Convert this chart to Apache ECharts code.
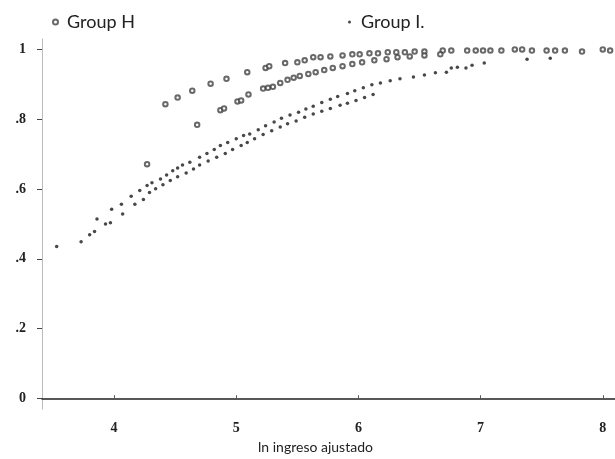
<!DOCTYPE html>
<html>
<head>
<meta charset="utf-8">
<script src="https://cdn.jsdelivr.net/npm/echarts@6/dist/echarts.min.js"></script>
<style>
  html, body { margin: 0; padding: 0; background: #fff; }
  #chart { width: 615px; height: 459px; }
</style>
</head>
<body>
<div id="chart"></div>
<script>
// tick values
var xTicks = [4, 5, 6, 7, 8];
var yTicks = [0, 0.2, 0.4, 0.6, 0.8, 1];

// Group H, upper row of circles
var groupH_top = [
    [4.42, .843], [4.52, .862], [4.64, .882], [4.79, .902], [4.92, .916], [5.09, .935],
    [5.24, .947], [5.27, .952], [5.40, .961], [5.50, .963], [5.56, .969], [5.63, .978],
    [5.69, .978], [5.77, .980], [5.87, .983], [5.95, .986], [6.01, .986], [6.09, .989],
    [6.16, .989], [6.24, .992], [6.31, .992], [6.38, .992], [6.46, .994], [6.54, .994],
    [6.69, .997], [6.76, .997], [6.89, .997], [6.96, .997], [7.02, .997], [7.08, .997],
    [7.17, .997], [7.28, 1.0], [7.34, 1.0], [7.42, .997], [7.54, .997], [7.61, .997],
    [7.69, .997], [7.83, .994], [8.00, 1.0], [8.06, .997]
];
// Group H, second row of circles
var groupH_low = [
    [4.27, .671], [4.68, .784], [4.87, .826], [4.90, .831], [5.01, .851], [5.04, .854],
    [5.10, .871], [5.22, .888], [5.26, .890], [5.30, .893], [5.36, .904], [5.42, .913],
    [5.47, .919], [5.52, .924], [5.59, .930], [5.65, .935], [5.72, .941], [5.79, .947],
    [5.87, .952], [5.95, .958], [6.03, .963], [6.13, .969], [6.23, .972], [6.32, .978],
    [6.42, .980], [6.54, .983], [6.67, .986]
];
// Group I, upper row of dots
var groupI_top = [
    [3.86, .514], [3.98, .542], [4.06, .556], [4.14, .579], [4.21, .596], [4.27, .610],
    [4.31, .618], [4.38, .629], [4.43, .640], [4.48, .652], [4.52, .660], [4.56, .669],
    [4.62, .677], [4.70, .691], [4.76, .702], [4.82, .713], [4.87, .725], [4.93, .733],
    [5.00, .744], [5.06, .753], [5.11, .758], [5.18, .770], [5.24, .781], [5.31, .792],
    [5.37, .803], [5.44, .812], [5.51, .820], [5.57, .829], [5.63, .837], [5.70, .848],
    [5.77, .857], [5.83, .865], [5.91, .874], [5.97, .882], [6.04, .890], [6.11, .899],
    [6.18, .904], [6.26, .910], [6.34, .916], [6.45, .921], [6.54, .927], [6.63, .933],
    [6.72, .935], [6.76, .947], [6.81, .949], [6.88, .947], [6.93, .955], [7.03, .961],
    [7.38, .972], [7.57, .975]
];
// Group I, lower row of dots
var groupI_low = [
    [3.53, .435], [3.73, .449], [3.80, .469], [3.84, .478], [3.93, .500], [3.97, .503],
    [4.07, .528], [4.17, .556], [4.24, .570], [4.29, .590], [4.34, .601], [4.40, .612],
    [4.46, .624], [4.52, .635], [4.59, .646], [4.65, .657], [4.70, .669], [4.77, .680],
    [4.84, .691], [4.91, .702], [4.97, .713], [5.04, .725], [5.09, .733], [5.15, .744],
    [5.22, .756], [5.29, .767], [5.36, .778], [5.42, .787], [5.49, .795], [5.56, .806],
    [5.63, .815], [5.70, .823], [5.77, .831], [5.85, .840], [5.91, .846], [5.98, .854],
    [6.05, .862], [6.12, .871]
];

var myChart = echarts.init(document.getElementById('chart'));
var serif = '"Liberation Serif", "DejaVu Serif", serif';
var sans = 'Lato, "Open Sans", sans-serif';

var option = {
    backgroundColor: '#fff',
    animation: false,
    legend: [
        {
            data: [{name: 'Group H', icon: 'emptyCircle'}],
            left: 47, top: 8,
            itemWidth: 5, itemHeight: 5,
            textStyle: {fontFamily: sans, fontSize: 18, color: '#222', padding: [0, 0, 0, 4]}
        },
        {
            data: [{name: 'Group I.', icon: 'circle'}],
            left: 343, top: 8,
            itemWidth: 3, itemHeight: 3,
            textStyle: {fontFamily: sans, fontSize: 18, color: '#222', padding: [0, 0, 0, 5]}
        }
    ],
    grid: {
        left: 42,
        right: 0,
        top: 39,
        bottom: 42
    },
    xAxis: {
        type: 'value',
        min: 3.41,
        max: 8.1,
        name: 'ln ingreso ajustado',
        nameLocation: 'middle',
        nameGap: 27,
        nameTextStyle: {fontFamily: sans, fontSize: 14, color: '#222', padding: [0, 26, 0, 0]},
        axisLine: {show: true, lineStyle: {color: '#222', width: 1.5}},
        axisTick: {show: true, inside: true, length: 3, customValues: xTicks, lineStyle: {color: '#555'}},
        axisLabel: {
            customValues: xTicks,
            margin: 12,
            fontFamily: serif,
            fontWeight: 'bold',
            fontSize: 14,
            color: '#222'
        },
        splitLine: {show: false}
    },
    yAxis: {
        type: 'value',
        min: -0.031,
        max: 1.03,
        axisLine: {show: true, lineStyle: {color: '#bbb', width: 1}},
        axisTick: {show: true, length: 5, customValues: yTicks, lineStyle: {color: '#444'}},
        axisLabel: {
            customValues: yTicks,
            margin: 16,
            fontFamily: serif,
            fontWeight: 'bold',
            fontSize: 14,
            color: '#222',
            formatter: function (v) {
                if (v === 0 || v === 1) return String(v);
                return String(Math.round(v * 10) / 10).replace('0.', '.');
            }
        },
        splitLine: {show: false}
    },
    series: [
        {
            name: 'Group H',
            type: 'scatter',
            symbol: 'emptyCircle',
            symbolSize: 4.5,
            itemStyle: {color: '#444', borderColor: '#444', borderWidth: 1},
            data: groupH_top.concat(groupH_low)
        },
        {
            name: 'Group I.',
            type: 'scatter',
            symbol: 'circle',
            symbolSize: 3.5,
            itemStyle: {color: '#1a1a1a'},
            data: groupI_top.concat(groupI_low)
        }
    ]
};
myChart.setOption(option);
</script>
</body>
</html>
